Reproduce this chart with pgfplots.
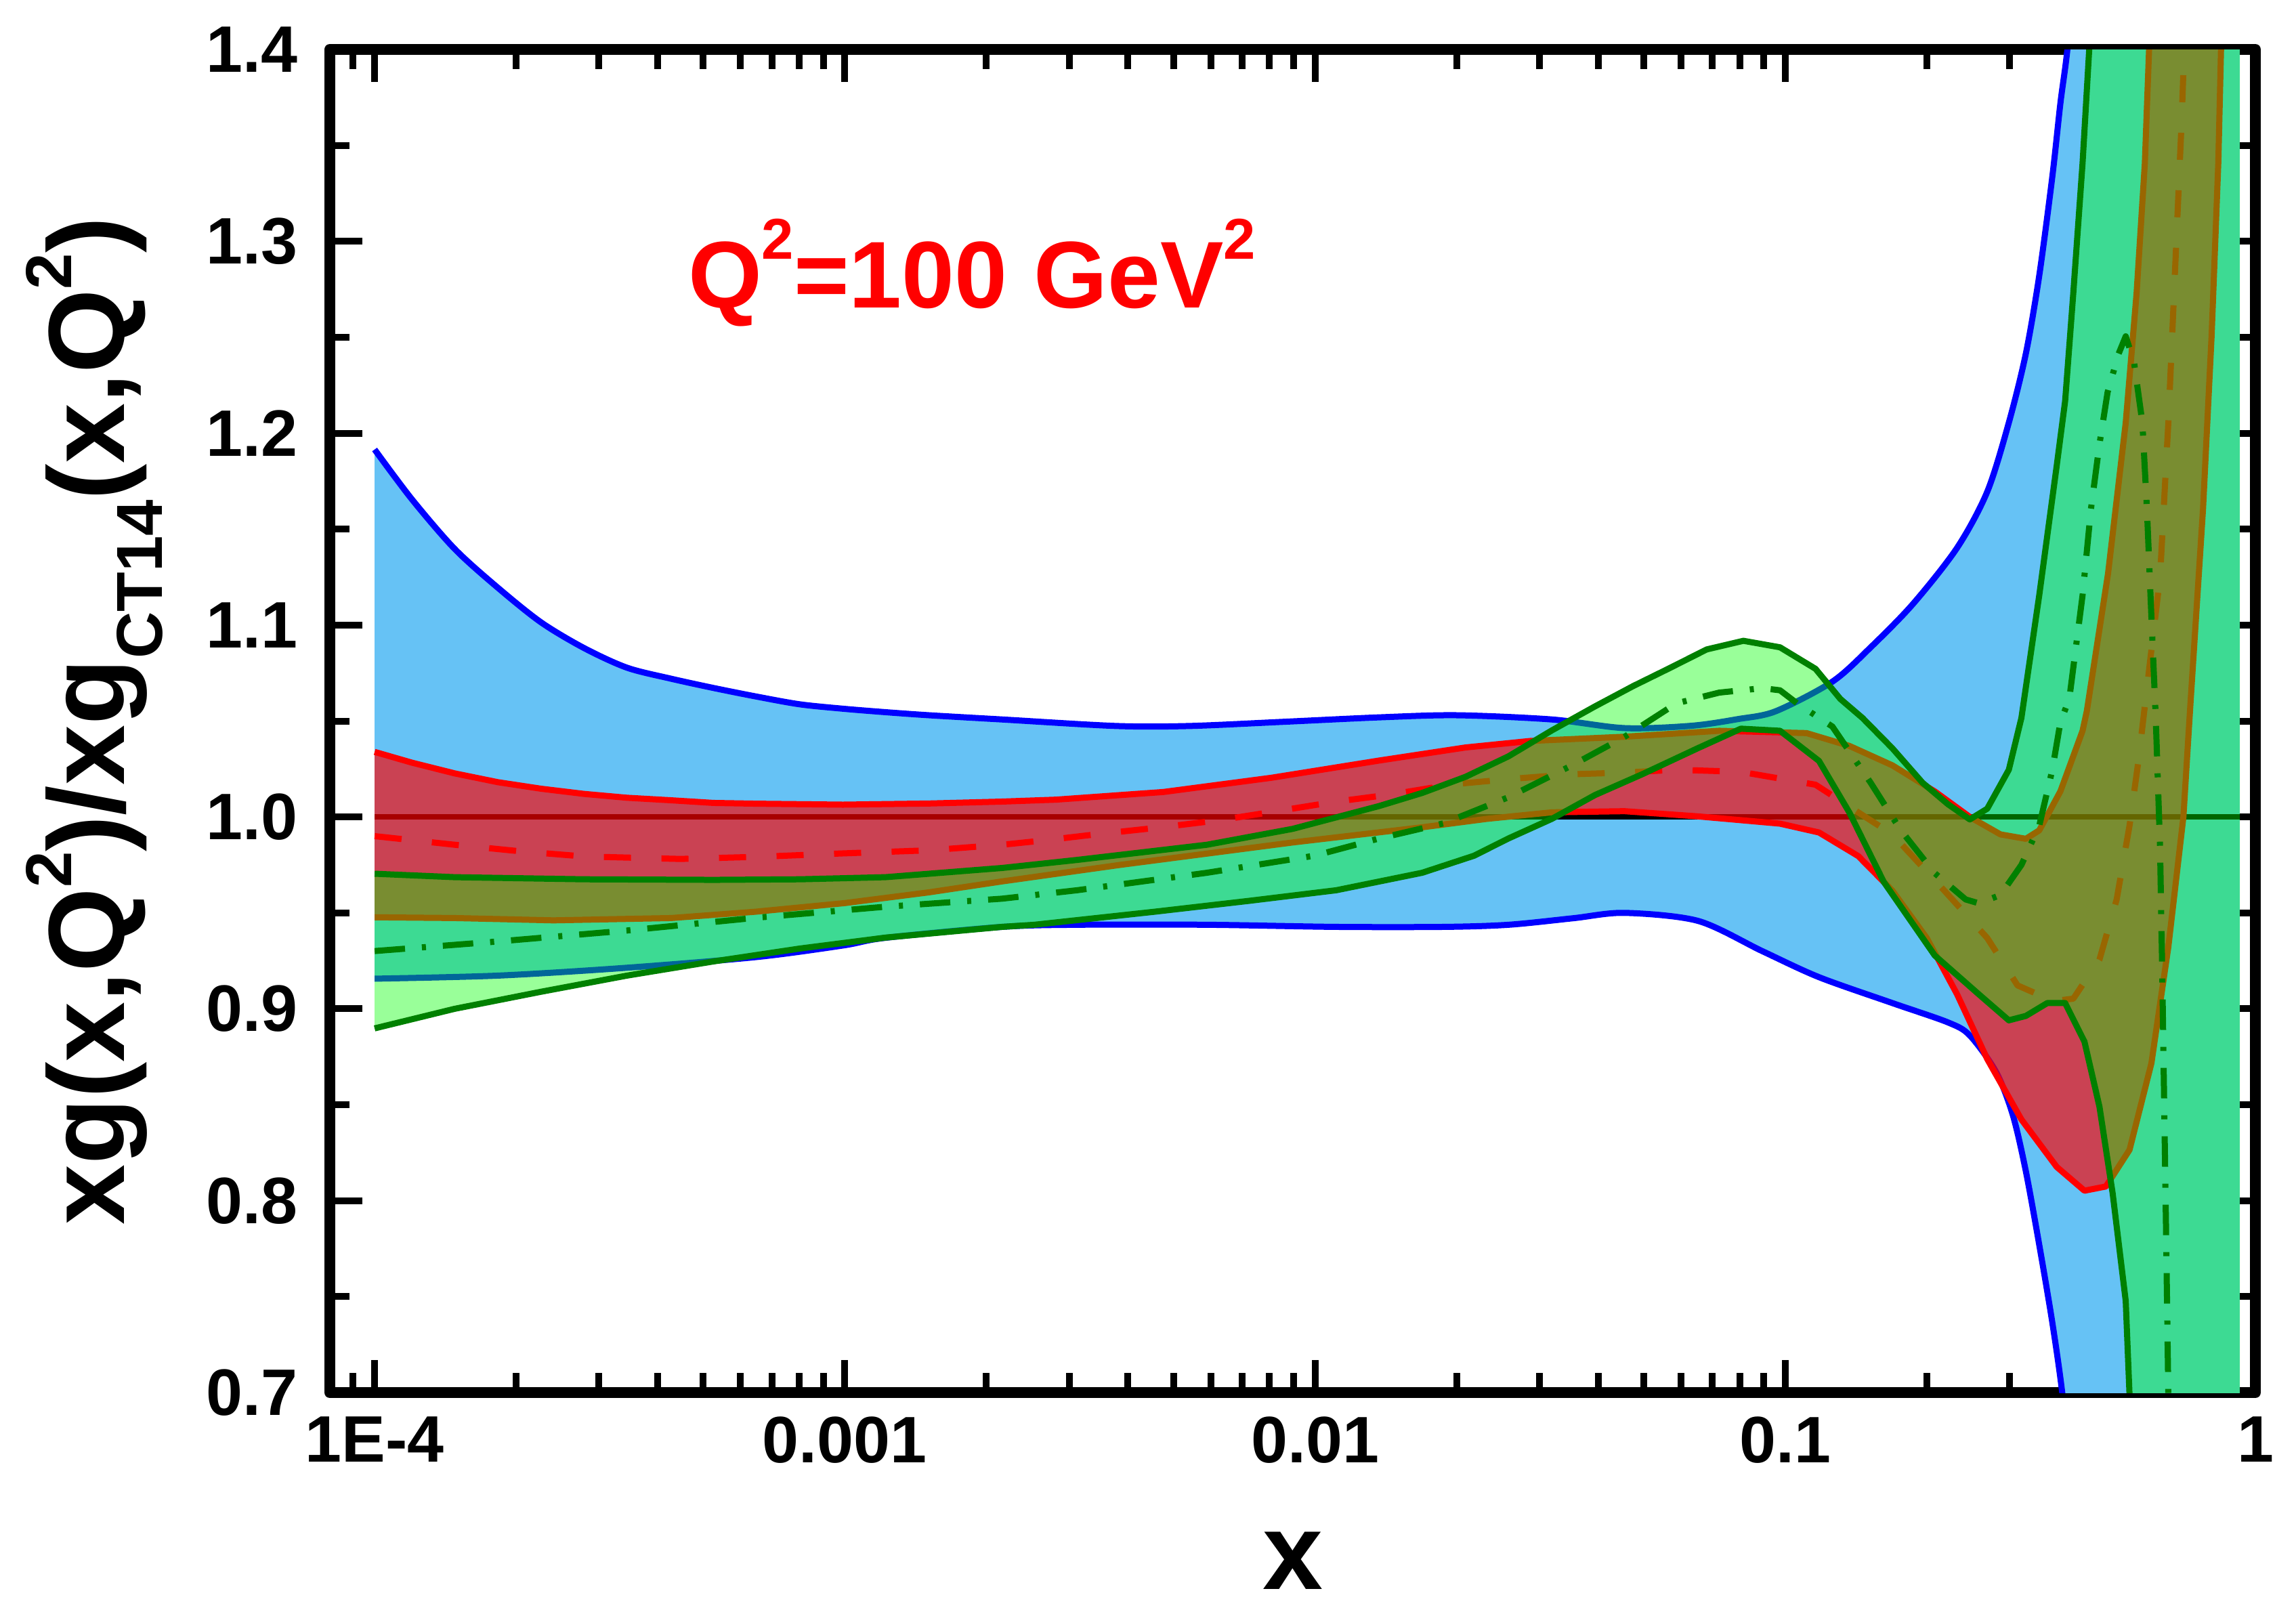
\documentclass[border=0pt]{standalone}
\usepackage{fontspec}
\setmainfont{Liberation Sans}
\usepackage{pgfplots}
\pgfplotsset{compat=1.18}

\definecolor{bandblue}{RGB}{102,194,245}
\definecolor{dkgreen}{RGB}{0,128,0}
\definecolor{bandgreen}{RGB}{0,255,0}

\newcommand{\lsup}[1]{\raisebox{7.8pt}{\fontsize{9.6}{10}\selectfont #1}}
\newcommand{\lsub}[1]{\raisebox{-5.6pt}{\fontsize{9.6}{10}\selectfont #1}}
\newcommand{\qsup}[1]{\raisebox{7.2pt}{\fontsize{8.5}{9}\selectfont #1}}

\begin{document}
\begin{tikzpicture}
\begin{axis}[
  name=ax,
  scale only axis,
  width=284.3pt, height=198.3pt,
  xmode=log, log basis x=10,
  xmin=8.03e-5, xmax=1,
  ymin=0.7, ymax=1.4,
  axis line style={line width=1.6pt},
  tick align=inside, tick pos=both,
  major tick length=4.8pt, minor tick length=2.9pt,
  every tick/.style={black, line width=1pt},
  xtick={1e-4,1e-3,1e-2,1e-1,1},
  xticklabels={1E-4,0.001,0.01,0.1,1},
  minor xtick={9e-5,
    2e-4,3e-4,4e-4,5e-4,6e-4,7e-4,8e-4,9e-4,
    2e-3,3e-3,4e-3,5e-3,6e-3,7e-3,8e-3,9e-3,
    2e-2,3e-2,4e-2,5e-2,6e-2,7e-2,8e-2,9e-2,
    0.2,0.3,0.4,0.5,0.6,0.7,0.8,0.9},
  ytick={0.7,0.8,0.9,1.0,1.1,1.2,1.3,1.4},
  yticklabels={0.7,0.8,0.9,1.0,1.1,1.2,1.3,1.4},
  minor ytick={0.75,0.85,0.95,1.05,1.15,1.25,1.35},
  tick label style={font=\fontsize{9.7}{10}\selectfont\bfseries},
  yticklabel style={xshift=-1.2pt},
  every axis y label/.style={at={(axis description cs:-0.1069,0.5)}, rotate=90, anchor=base},
  every axis x label/.style={at={(axis description cs:0.5,0)}, anchor=base, yshift=-29pt, inner sep=0pt, text depth=0pt},
  ylabel={\fontsize{16}{18}\selectfont\bfseries xg(x,Q\lsup{2})/xg\lsub{CT14}(x,Q\lsup{2})},
  xlabel={\fontsize{16}{18}\selectfont\bfseries x},
  line join=round,
]

% ---- blue band (opaque): the region past x = 0.41 is covered at every height
\addplot[draw=none, fill=bandblue, smooth, tension=0.5] coordinates {
(1e-4,1.1915)(1.20e-4,1.1656)(1.48e-4,1.1397)(1.83e-4,1.1194)(2.26e-4,1.1014)(2.79e-4,1.0880)(3.44e-4,1.0778)(4.26e-4,1.0721)(5.26e-4,1.0672)(6.50e-4,1.0627)(8.02e-4,1.0587)(9.91e-4,1.0564)(1.22e-3,1.0546)(1.51e-3,1.0530)(2.16e-3,1.0508)(3.78e-3,1.0474)(5.41e-3,1.0474)(8.61e-3,1.0496)(1.37e-2,1.0519)(2.00e-2,1.0530)(3.19e-2,1.0508)(4.55e-2,1.0463)(6.31e-2,1.0475)(7.94e-2,1.0510)(9.55e-2,1.0551)(0.126,1.0705)(0.152,1.0884)(0.187,1.1110)(0.232,1.1402)(0.269,1.1695)(0.299,1.2055)(0.325,1.2415)(0.347,1.2821)(0.370,1.3338)(0.385,1.3721)(0.398,1.3991)(0.417,1.45)
(0.46,1.6)(0.46,0.5)
(0.407,0.65)(0.389,0.6986)(0.370,0.7364)(0.347,0.7770)(0.325,0.8153)(0.305,0.8445)(0.281,0.8670)(0.247,0.8861)(0.222,0.8929)(0.169,0.9030)(0.118,0.9165)(8.95e-2,0.9300)(6.53e-2,0.9458)(4.55e-2,0.9500)(3.54e-2,0.9472)(2.58e-2,0.9438)(1.88e-2,0.9427)(1.11e-2,0.9427)(5.89e-3,0.9438)(3.12e-3,0.9438)(2.16e-3,0.9427)(1.22e-3,0.9370)(9.91e-4,0.9330)(6.50e-4,0.9270)(3.44e-4,0.9214)(1.83e-4,0.9173)(1e-4,0.9157)
};
\addplot[draw=none, fill=bandblue] coordinates {(0.41,0.5)(0.41,1.6)(0.927,1.6)(0.927,0.5)};
\addplot[blue, line width=0.9pt, smooth, tension=0.5] coordinates {
(1e-4,1.1915)(1.20e-4,1.1656)(1.48e-4,1.1397)(1.83e-4,1.1194)(2.26e-4,1.1014)(2.79e-4,1.0880)(3.44e-4,1.0778)(4.26e-4,1.0721)(5.26e-4,1.0672)(6.50e-4,1.0627)(8.02e-4,1.0587)(9.91e-4,1.0564)(1.22e-3,1.0546)(1.51e-3,1.0530)(2.16e-3,1.0508)(3.78e-3,1.0474)(5.41e-3,1.0474)(8.61e-3,1.0496)(1.37e-2,1.0519)(2.00e-2,1.0530)(3.19e-2,1.0508)(4.55e-2,1.0463)(6.31e-2,1.0475)(7.94e-2,1.0510)(9.55e-2,1.0551)(0.126,1.0705)(0.152,1.0884)(0.187,1.1110)(0.232,1.1402)(0.269,1.1695)(0.299,1.2055)(0.325,1.2415)(0.347,1.2821)(0.370,1.3338)(0.385,1.3721)(0.398,1.3991)(0.417,1.45)
};
\addplot[blue, line width=0.9pt, smooth, tension=0.5] coordinates {
(1e-4,0.9157)(1.83e-4,0.9173)(3.44e-4,0.9214)(6.50e-4,0.9270)(9.91e-4,0.9330)(1.22e-3,0.9370)(2.16e-3,0.9427)(3.12e-3,0.9438)(5.89e-3,0.9438)(1.11e-2,0.9427)(1.88e-2,0.9427)(2.58e-2,0.9438)(3.54e-2,0.9472)(4.55e-2,0.9500)(6.53e-2,0.9458)(8.95e-2,0.9300)(0.118,0.9165)(0.169,0.9030)(0.222,0.8929)(0.247,0.8861)(0.281,0.8670)(0.305,0.8445)(0.325,0.8153)(0.347,0.7770)(0.370,0.7364)(0.389,0.6986)(0.407,0.65)
};

% ---- reference line at 1
\addplot[black, line width=0.8pt] coordinates {(1e-4,1)(0.927,1)};

% ---- red band
\addplot[draw=none, fill=red, fill opacity=0.66] coordinates {
(1e-4,1.0339)(1.20e-4,1.0283)(1.48e-4,1.0227)(1.83e-4,1.0181)(2.26e-4,1.0147)(2.79e-4,1.0120)(3.44e-4,1.0100)(4.26e-4,1.0087)(5.26e-4,1.0073)(6.50e-4,1.0069)(9.91e-4,1.0064)(1.51e-3,1.0070)(2.16e-3,1.0080)(2.81e-3,1.0090)(4.76e-3,1.0130)(8.07e-3,1.0204)(1.37e-2,1.0294)(2.09e-2,1.0362)(2.87e-2,1.0396)(4.55e-2,1.0418)(7.24e-2,1.0449)(0.111,1.0437)(0.137,1.0370)(0.169,1.0269)(0.208,1.0133)(0.247,1.0000)(0.287,0.9909)(0.325,0.9886)(0.347,0.9930)(0.385,1.0134)(0.429,1.0449)(0.438,1.0551)(0.486,1.1268)(0.530,1.2055)(0.559,1.2731)(0.582,1.3407)(0.594,1.3991)(0.610,1.46)
(0.861,1.46)(0.845,1.3990)(0.834,1.3407)(0.807,1.2505)(0.774,1.1605)(0.726,1.0551)(0.703,1.0000)(0.653,0.9322)(0.601,0.8716)(0.540,0.8265)(0.481,0.8074)(0.433,0.8052)(0.378,0.8176)(0.318,0.8423)(0.269,0.8738)(0.232,0.9076)(0.200,0.9369)(0.169,0.9616)(0.143,0.9796)(0.118,0.9919)(9.75e-2,0.9965)(6.52e-2,1.0003)(4.55e-2,1.0030)(3.19e-2,1.0024)(2.32e-2,0.9990)(1.69e-2,0.9946)(8.97e-3,0.9867)(3.85e-3,0.9750)(2.16e-3,0.9664)(1.51e-3,0.9607)(1e-3,0.9551)(6.46e-4,0.9506)(4.27e-4,0.9473)(2.40e-4,0.9461)(1.48e-4,0.9473)(1e-4,0.9477)
};
\addplot[red, line width=0.9pt] coordinates {
(1e-4,1.0339)(1.20e-4,1.0283)(1.48e-4,1.0227)(1.83e-4,1.0181)(2.26e-4,1.0147)(2.79e-4,1.0120)(3.44e-4,1.0100)(4.26e-4,1.0087)(5.26e-4,1.0073)(6.50e-4,1.0069)(9.91e-4,1.0064)(1.51e-3,1.0070)(2.16e-3,1.0080)(2.81e-3,1.0090)(4.76e-3,1.0130)(8.07e-3,1.0204)(1.37e-2,1.0294)(2.09e-2,1.0362)(2.87e-2,1.0396)(4.55e-2,1.0418)(7.24e-2,1.0449)(0.111,1.0437)(0.137,1.0370)(0.169,1.0269)(0.208,1.0133)(0.247,1.0000)(0.287,0.9909)(0.325,0.9886)(0.347,0.9930)(0.385,1.0134)(0.429,1.0449)(0.438,1.0551)(0.486,1.1268)(0.530,1.2055)(0.559,1.2731)(0.582,1.3407)(0.594,1.3991)(0.610,1.46)
};
\addplot[red, line width=0.9pt] coordinates {
(1e-4,0.9477)(1.48e-4,0.9473)(2.40e-4,0.9461)(4.27e-4,0.9473)(6.46e-4,0.9506)(1e-3,0.9551)(1.51e-3,0.9607)(2.16e-3,0.9664)(3.85e-3,0.9750)(8.97e-3,0.9867)(1.69e-2,0.9946)(2.32e-2,0.9990)(3.19e-2,1.0024)(4.55e-2,1.0030)(6.52e-2,1.0003)(9.75e-2,0.9965)(0.118,0.9919)(0.143,0.9796)(0.169,0.9616)(0.200,0.9369)(0.232,0.9076)(0.269,0.8738)(0.318,0.8423)(0.378,0.8176)(0.433,0.8052)(0.481,0.8074)(0.540,0.8265)(0.601,0.8716)(0.653,0.9322)(0.703,1.0000)(0.726,1.0551)(0.774,1.1605)(0.807,1.2505)(0.834,1.3407)(0.845,1.3990)(0.861,1.46)
};
\addplot[red, line width=0.9pt, dash pattern=on 4pt off 4.5pt] coordinates {
(1e-4,0.9900)(1.48e-4,0.9855)(2.04e-4,0.9821)(2.79e-4,0.9794)(4.47e-4,0.9781)(6.50e-4,0.9792)(9.91e-4,0.9810)(1.51e-3,0.9826)(2.16e-3,0.9855)(2.64e-3,0.9877)(3.47e-3,0.9911)(4.67e-3,0.9945)(6.27e-3,0.9983)(8.24e-3,1.0029)(1.11e-2,1.0080)(1.46e-2,1.0118)(1.96e-2,1.0170)(2.64e-2,1.0199)(3.47e-2,1.0222)(4.55e-2,1.0231)(5.87e-2,1.0246)(8.05e-2,1.0235)(0.116,1.0168)(0.169,0.9909)(0.218,0.9616)(0.269,0.9369)(0.312,0.9122)(0.372,0.9040)(0.410,0.9053)(0.466,0.9256)(0.507,0.9570)(0.540,0.9955)(0.564,1.0292)(0.603,1.0900)(0.627,1.1250)(0.653,1.2055)(0.697,1.3630)(0.708,1.41)
};

% ---- green band
\addplot[draw=none, fill=bandgreen, fill opacity=0.40] coordinates {
(1e-4,0.9704)(1.48e-4,0.9686)(2.79e-4,0.9675)(5.26e-4,0.9672)(8.02e-4,0.9675)(1.22e-3,0.9686)(2.16e-3,0.9734)(3.12e-3,0.9776)(5.89e-3,0.9855)(8.97e-3,0.9938)(1.37e-2,1.0057)(1.69e-2,1.0125)(2.09e-2,1.0209)(2.58e-2,1.0316)(3.19e-2,1.0451)(3.94e-2,1.0576)(4.75e-2,1.0682)(5.64e-2,1.0772)(6.81e-2,1.0873)(8.15e-2,1.0918)(9.75e-2,1.0884)(0.116,1.0772)(0.131,1.0615)(0.146,1.0516)(0.169,1.0358)(0.196,1.0178)(0.222,1.0066)(0.247,0.9987)(0.269,1.0043)(0.299,1.0246)(0.318,1.0516)(0.347,1.1155)(0.378,1.1830)(0.394,1.2168)(0.410,1.2731)(0.429,1.3407)(0.443,1.3991)(0.457,1.46)
(0.501,1.6)(0.927,1.6)(0.927,0.5)(0.631,0.5)
(0.550,0.64)(0.540,0.6986)(0.530,0.7477)(0.497,0.8040)(0.466,0.8490)(0.433,0.8829)(0.394,0.9030)(0.361,0.9030)(0.325,0.8963)(0.299,0.8940)(0.258,0.9076)(0.208,0.9278)(0.162,0.9662)(0.137,1.0022)(0.118,1.0292)(9.75e-2,1.0449)(8.05e-2,1.0460)(6.53e-2,1.0359)(4.97e-2,1.0223)(3.94e-2,1.0114)(3.19e-2,0.9990)(2.58e-2,0.9888)(2.18e-2,0.9798)(1.69e-2,0.9709)(1.11e-2,0.9618)(7.26e-3,0.9563)(4.56e-3,0.9506)(2.53e-3,0.9438)(2.16e-3,0.9427)(1.22e-3,0.9371)(8.02e-4,0.9314)(5.26e-4,0.9247)(3.44e-4,0.9173)(2.26e-4,0.9089)(1.48e-4,0.9000)(1e-4,0.8898)
};
\addplot[dkgreen, line width=0.9pt] coordinates {
(1e-4,0.9704)(1.48e-4,0.9686)(2.79e-4,0.9675)(5.26e-4,0.9672)(8.02e-4,0.9675)(1.22e-3,0.9686)(2.16e-3,0.9734)(3.12e-3,0.9776)(5.89e-3,0.9855)(8.97e-3,0.9938)(1.37e-2,1.0057)(1.69e-2,1.0125)(2.09e-2,1.0209)(2.58e-2,1.0316)(3.19e-2,1.0451)(3.94e-2,1.0576)(4.75e-2,1.0682)(5.64e-2,1.0772)(6.81e-2,1.0873)(8.15e-2,1.0918)(9.75e-2,1.0884)(0.116,1.0772)(0.131,1.0615)(0.146,1.0516)(0.169,1.0358)(0.196,1.0178)(0.222,1.0066)(0.247,0.9987)(0.269,1.0043)(0.299,1.0246)(0.318,1.0516)(0.347,1.1155)(0.378,1.1830)(0.394,1.2168)(0.410,1.2731)(0.429,1.3407)(0.443,1.3991)(0.457,1.46)
};
\addplot[dkgreen, line width=0.9pt] coordinates {
(1e-4,0.8898)(1.48e-4,0.9000)(2.26e-4,0.9089)(3.44e-4,0.9173)(5.26e-4,0.9247)(8.02e-4,0.9314)(1.22e-3,0.9371)(2.16e-3,0.9427)(2.53e-3,0.9438)(4.56e-3,0.9506)(7.26e-3,0.9563)(1.11e-2,0.9618)(1.69e-2,0.9709)(2.18e-2,0.9798)(2.58e-2,0.9888)(3.19e-2,0.9990)(3.94e-2,1.0114)(4.97e-2,1.0223)(6.53e-2,1.0359)(8.05e-2,1.0460)(9.75e-2,1.0449)(0.118,1.0292)(0.137,1.0022)(0.162,0.9662)(0.208,0.9278)(0.258,0.9076)(0.299,0.8940)(0.325,0.8963)(0.361,0.9030)(0.394,0.9030)(0.433,0.8829)(0.466,0.8490)(0.497,0.8040)(0.530,0.7477)(0.540,0.6986)(0.550,0.64)
};
\addplot[dkgreen, line width=0.9pt, dash pattern=on 4.5pt off 2.5pt on 0.6pt off 2.5pt] coordinates {
(1e-4,0.9301)(1.83e-4,0.9351)(3.44e-4,0.9408)(6.50e-4,0.9475)(1.22e-3,0.9532)(2.16e-3,0.9574)(3.12e-3,0.9618)(5.89e-3,0.9709)(9.98e-3,0.9798)(1.37e-2,0.9888)(1.88e-2,0.9967)(2.58e-2,1.0103)(3.54e-2,1.0272)(4.55e-2,1.0417)(5.87e-2,1.0592)(7.24e-2,1.0648)(8.95e-2,1.0671)(9.75e-2,1.0660)(0.106,1.0592)(0.126,1.0471)(0.152,1.0178)(0.176,0.9932)(0.208,0.9707)(0.242,0.9570)(0.258,0.9550)(0.287,0.9593)(0.318,0.9750)(0.347,0.9954)(0.370,1.0246)(0.385,1.0495)(0.402,1.0615)(0.429,1.1155)(0.447,1.1605)(0.466,1.1942)(0.485,1.2214)(0.512,1.2415)(0.530,1.2505)(0.552,1.2370)(0.575,1.2055)(0.588,1.1605)(0.601,1.1042)(0.614,1.0516)(0.627,0.9842)(0.634,0.9165)(0.640,0.8490)(0.646,0.7816)(0.653,0.6986)(0.656,0.66)
};

\node[anchor=base west, text=red, font=\fontsize{14}{15}\selectfont\bfseries]
  at (axis cs:4.13e-4,1.2655) {Q\qsup{2}=100 GeV\qsup{2}};
\end{axis}
\pgfresetboundingbox
\path[use as bounding box] ([xshift=-48.7pt,yshift=-32.3pt]ax.south west) rectangle ([xshift=6pt,yshift=7.3pt]ax.north east);
\end{tikzpicture}
\end{document}
